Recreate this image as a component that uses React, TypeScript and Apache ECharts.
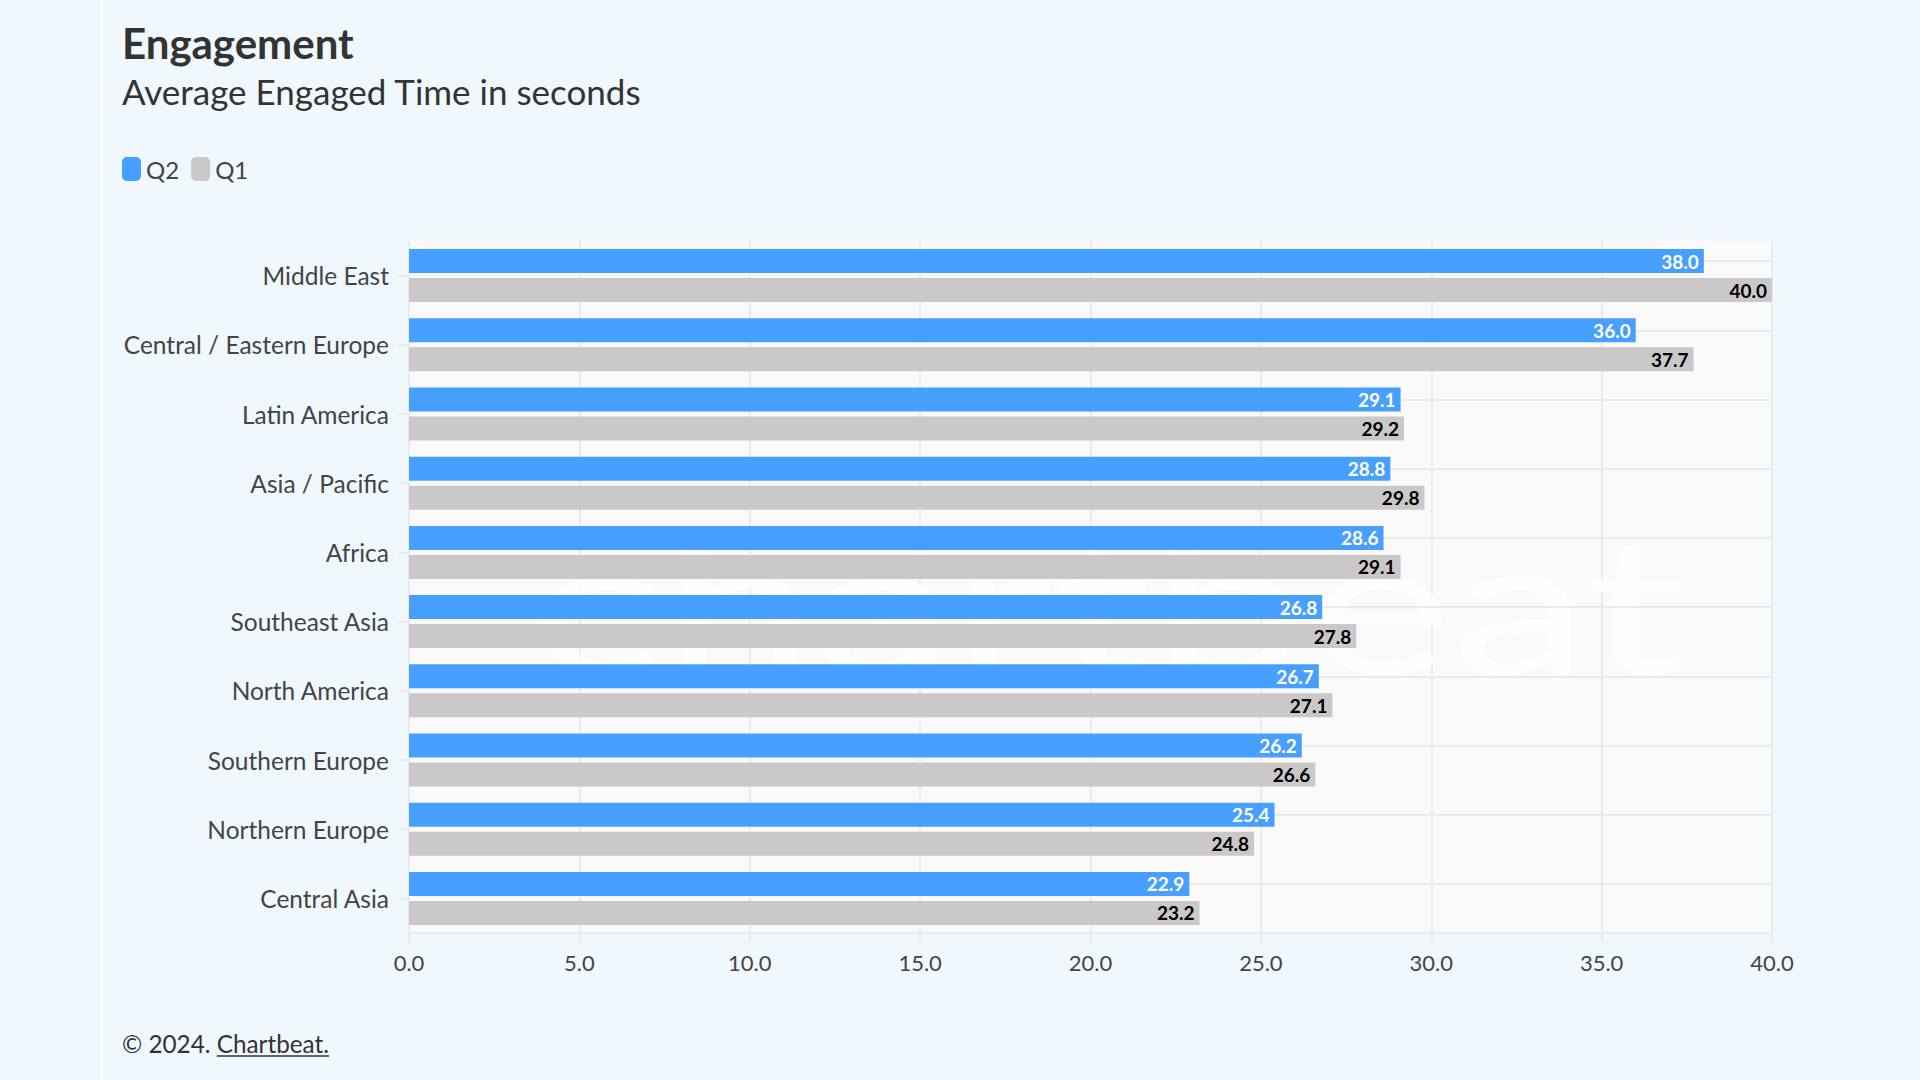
import React, { useEffect, useRef } from "react";
import * as echarts from "echarts";

const categories = [
  "Middle East",
  "Central / Eastern Europe",
  "Latin America",
  "Asia / Pacific",
  "Africa",
  "Southeast Asia",
  "North America",
  "Southern Europe",
  "Northern Europe",
  "Central Asia",
];
const q2Values = [38.0, 36.0, 29.1, 28.8, 28.6, 26.8, 26.7, 26.2, 25.4, 22.9];
const q1Values = [40.0, 37.7, 29.2, 29.8, 29.1, 27.8, 27.1, 26.6, 24.8, 23.2];
const seriesNames = ["Q2", "Q1"];
const xMin = 0;
const xMax = 40;
const xInterval = 5;

const FONT = "Lato, 'Noto Sans', sans-serif";
const BG = "#f0f8fe";
const GRID_LINE = "#ebebeb";
const TEXT = "#444444";

function measure(text: string, size: number, weight = "normal") {
  const c = document.createElement("canvas").getContext("2d");
  if (!c) return text.length * size * 0.5;
  c.font = `${weight} ${size}px Lato`;
  return c.measureText(text).width;
}

export default function App() {
  const ref = useRef<HTMLDivElement>(null);
  useEffect(() => {
    if (!ref.current) return;
    document.body.style.margin = "0";
    const chart = echarts.init(ref.current, null, { renderer: "svg" });
    const footSize = 24.3;
    const footX = 122;
    const footY = 1043;
    const prefix = "© 2024. ";
    const link = "Chartbeat.";
    const wPrefix = measure(prefix, footSize);
    const wLink = measure(link, footSize);

    const barLabel = (color: string) => ({
      show: true,
      position: "insideRight",
      distance: 5,
      color,
      fontWeight: "bold",
      fontSize: 19,
      fontFamily: FONT,
      formatter: (p: any) => Number(p.value).toFixed(1),
    });

    chart.setOption({
      animation: false,
      backgroundColor: BG,
      textStyle: { fontFamily: FONT },
      grid: {
        left: 409,
        right: 148,
        top: 241,
        bottom: 147,
        show: true,
        backgroundColor: "#fafafa",
        borderWidth: 0,
      },
      legend: {
        data: seriesNames,
        left: 122,
        top: 157,
        padding: 0,
        icon: "roundRect",
        itemWidth: 19,
        itemHeight: 24,
        itemGap: 12,
        textStyle: { fontSize: 24, color: TEXT, fontFamily: FONT },
      },
      xAxis: {
        type: "value",
        min: xMin,
        max: xMax,
        interval: xInterval,
        axisLine: { show: true, lineStyle: { color: GRID_LINE, width: 2 } },
        axisTick: { show: true, length: 10, lineStyle: { color: GRID_LINE, width: 2 } },
        splitLine: { show: true, lineStyle: { color: GRID_LINE, width: 2 } },
        axisLabel: {
          formatter: (v: number) => v.toFixed(1),
          fontSize: 22,
          color: TEXT,
          margin: 18,
          fontFamily: FONT,
        },
      },
      yAxis: {
        type: "category",
        inverse: true,
        data: categories,
        axisLine: { show: false },
        axisTick: {
          show: true,
          alignWithLabel: true,
          length: 10,
          lineStyle: { color: GRID_LINE, width: 2 },
        },
        splitLine: { show: false },
        axisLabel: { fontSize: 24.5, color: TEXT, margin: 20, fontFamily: FONT },
      },
      series: [
        {
          name: seriesNames[0],
          type: "bar",
          data: q2Values,
          barWidth: 24,
          barGap: "21%",
          itemStyle: { color: "#47a0ff" },
          label: barLabel("#ffffff"),
          markLine: {
            silent: true,
            symbol: "none",
            label: { show: false },
            lineStyle: { color: GRID_LINE, width: 2, type: "solid" },
            data: categories.map((c) => ({ yAxis: c })),
            z: 1,
          },
        },
        {
          name: seriesNames[1],
          type: "bar",
          data: q1Values,
          barWidth: 24,
          barGap: "21%",
          itemStyle: { color: "#cac8c9" },
          label: barLabel("#000000"),
        },
      ],
      graphic: [
        {
          type: "line",
          shape: { x1: 102, y1: 0, x2: 102, y2: 1080 },
          style: { stroke: "#ffffff", lineWidth: 2 },
        },
        {
          type: "text",
          x: 1108,
          y: 600,
          scaleX: 1.45,
          z: 1,
          style: {
            text: "chartbeat",
            fill: "rgba(255,255,255,0.75)",
            fontSize: 190,
            fontFamily: FONT,
            textAlign: "center",
            textVerticalAlign: "middle",
          },
        },
        {
          type: "text",
          x: 122,
          y: 43,
          style: {
            text: "Engagement",
            fill: "#333333",
            fontSize: 42,
            fontWeight: "bold",
            fontFamily: FONT,
            textVerticalAlign: "middle",
          },
        },
        {
          type: "text",
          x: 122,
          y: 91,
          style: {
            text: "Average Engaged Time in seconds",
            fill: "#333333",
            fontSize: 35,
            fontFamily: FONT,
            textVerticalAlign: "middle",
          },
        },
        {
          type: "text",
          x: footX,
          y: footY,
          style: {
            text: prefix + link,
            fill: "#333333",
            fontSize: footSize,
            fontFamily: FONT,
            textVerticalAlign: "middle",
          },
        },
        {
          type: "line",
          shape: {
            x1: footX + wPrefix,
            y1: footY + 13,
            x2: footX + wPrefix + wLink,
            y2: footY + 13,
          },
          style: { stroke: "#333333", lineWidth: 1.5 },
        },
      ],
    });
    return () => chart.dispose();
  }, []);
  return (
    <div
      ref={ref}
      style={{ position: "fixed", left: 0, top: 0, width: 1920, height: 1080 }}
    />
  );
}
